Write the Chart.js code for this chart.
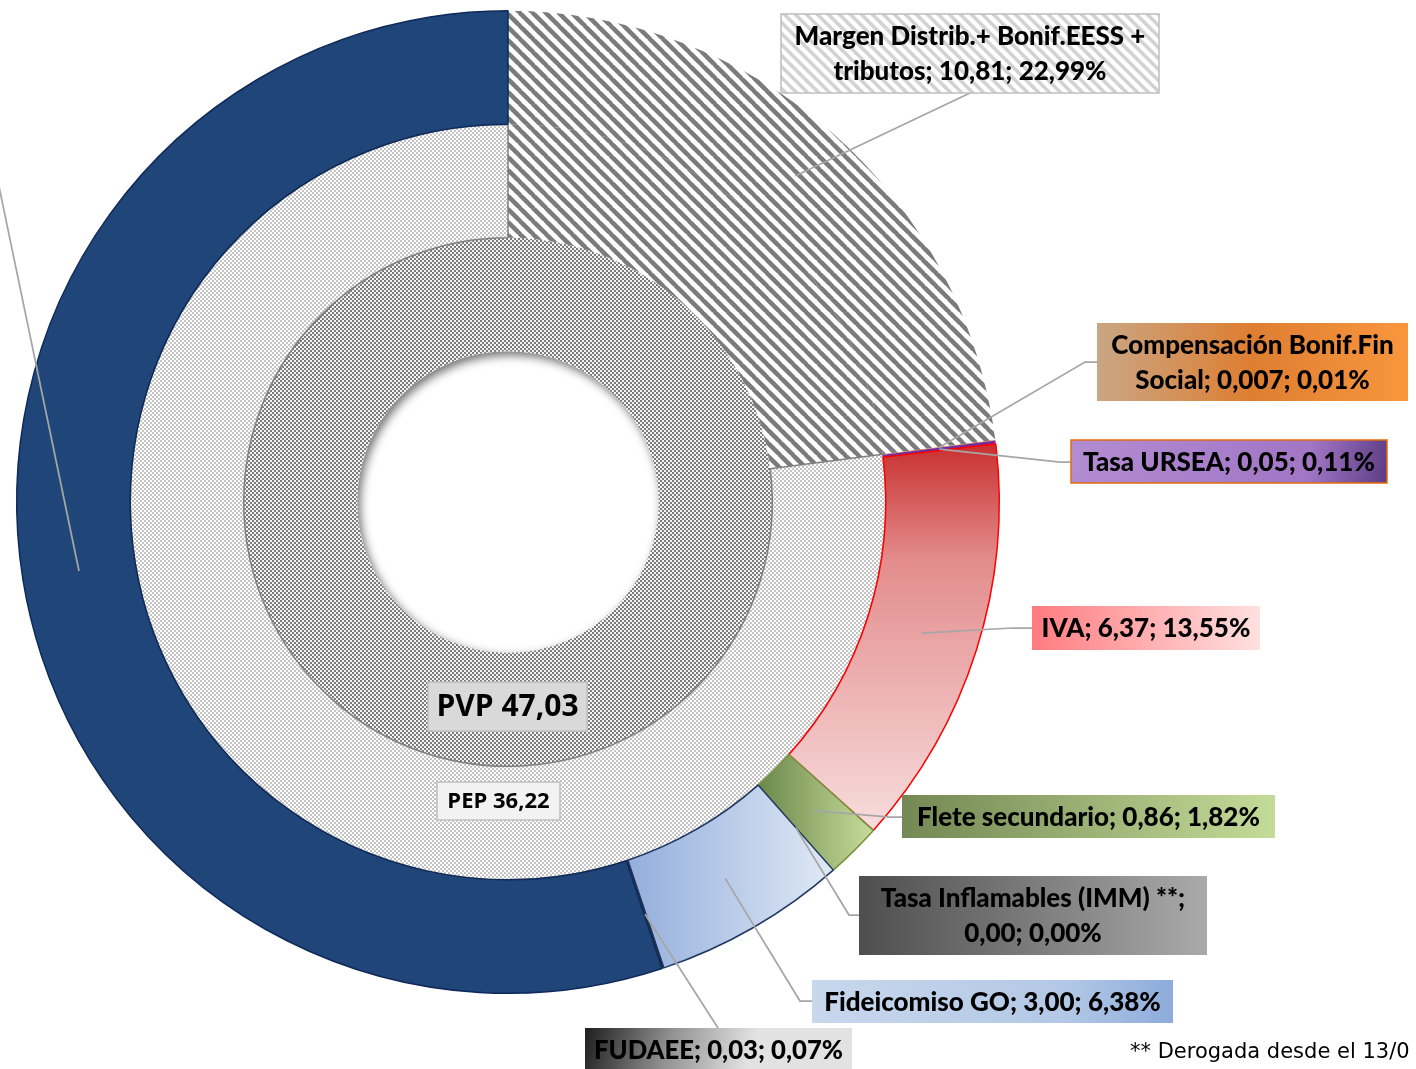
<!DOCTYPE html>
<html>
<head>
<meta charset="utf-8">
<script src="https://cdn.jsdelivr.net/npm/chart.js@4.4.0/dist/chart.umd.min.js"></script>
<style>
  html, body { margin: 0; padding: 0; background: #fff; overflow: hidden; }
  #wrap { position: relative; width: 1416px; height: 1069px; }
</style>
</head>
<body>
<div id="wrap"><canvas id="chart" width="1416" height="1069"></canvas></div>
<script>
// Outer ring: breakdown of the price
const outerLabels = ['Margen Distrib.+ Bonif.EESS + tributos', 'Compensación Bonif.Fin Social', 'Tasa URSEA', 'IVA',
  'Flete secundario', 'Tasa Inflamables (IMM) **', 'Fideicomiso GO', 'FUDAEE', 'Precio paridad'];
const outerValues = [10.81, 0.007, 0.05, 6.37, 0.86, 0.00, 3.00, 0.03, 25.90];
const outerValueText = ['10,81', '0,007', '0,05', '6,37', '0,86', '0,00', '3,00', '0,03', '25,90'];
const outerPctText = ['22,99%', '0,01%', '0,11%', '13,55%', '1,82%', '0,00%', '6,38%', '0,07%', '55,07%'];

// Middle ring: margen vs PEP
const middleLabels = ['Margen', 'PEP'];
const middleValues = [10.81, 36.22];

// Inner ring: PVP
const innerLabels = ['PVP'];
const innerValues = [47.03];

const footnote = '** Derogada desde el 13/0';

const fmt = v => v.toFixed(2).replace('.', ',');

// label boxes (layout only), same order as outerLabels
const boxes = [
  { x: 781, y: 14, w: 378, h: 79, split: 4, leader: [[970, 93]] },
  { x: 1097, y: 323, w: 311, h: 78, split: 2, leader: [[1085, 362], [1097, 362]] },
  { x: 1071, y: 440, w: 316, h: 43, split: 0, leader: [[1060, 462], [1071, 462]] },
  { x: 1032, y: 606, w: 228, h: 44, split: 0, leader: [[1012, 628], [1032, 628]] },
  { x: 902, y: 795, w: 373, h: 43, split: 0, leader: [[890, 817], [902, 817]] },
  { x: 859, y: 876, w: 348, h: 79, split: 4, leader: [[849, 915], [859, 915]] },
  { x: 812, y: 980, w: 361, h: 43, split: 0, leader: [[800, 1001], [812, 1001]] },
  { x: 585, y: 1028, w: 267, h: 44, split: 0, leader: [[718, 1028]] },
  { x: -400, y: 150, w: 300, h: 60, split: 0, leader: [[-4, 172]] }
];

function stripes(fg, bg, size, width) {
  const t = document.createElement('canvas');
  t.width = t.height = size;
  const g = t.getContext('2d');
  g.fillStyle = bg;
  g.fillRect(0, 0, size, size);
  g.strokeStyle = fg;
  g.lineWidth = width;
  g.beginPath();
  for (const o of [-size, 0, size]) {
    g.moveTo(o - 1, -1);
    g.lineTo(o + size + 1, size + 1);
  }
  g.stroke();
  return g.createPattern(t, 'repeat');
}

function checker(fg, bg) {
  const t = document.createElement('canvas');
  t.width = t.height = 4;
  const g = t.getContext('2d');
  g.fillStyle = bg;
  g.fillRect(0, 0, 4, 4);
  g.fillStyle = fg;
  g.fillRect(0, 0, 2, 2);
  g.fillRect(2, 2, 2, 2);
  return g.createPattern(t, 'repeat');
}

const hatchDark = stripes('#7b7b7b', '#ffffff', 13, 4.5);
const hatchLight = stripes('#d2d2d2', '#ffffff', 11, 3.5);
const dotsDark = checker('#7c7c7c', '#f4f4f4');
const dotsLight = checker('#c4c4c4', '#ffffff');

function geo(chart) {
  const a = chart.chartArea;
  if (!a) return null;
  return { cx: (a.left + a.right) / 2, cy: (a.top + a.bottom) / 2, R: Math.min(a.width, a.height) / 2 };
}

function lin(ctx, x0, y0, x1, y1, stops) {
  const g = ctx.createLinearGradient(x0, y0, x1, y1);
  stops.forEach(s => g.addColorStop(s[0], s[1]));
  return g;
}

const outerFill = [
  () => hatchDark,
  () => '#E46C0A',
  () => '#7030A0',
  c => { const g = geo(c.chart); if (!g) return '#E38C8C'; return lin(c.chart.ctx, 0, g.cy - 0.12 * g.R, 0, g.cy + 0.67 * g.R, [[0, '#C92F2F'], [0.3, '#E38C8C'], [1, '#F8DDDD']]); },
  c => { const g = geo(c.chart); if (!g) return '#9CB373'; return lin(c.chart.ctx, g.cx + 0.51 * g.R, 0, g.cx + 0.74 * g.R, 0, [[0, '#6C884C'], [1, '#C6DB9A']]); },
  () => '#808080',
  c => { const g = geo(c.chart); if (!g) return '#B8CAE8'; return lin(c.chart.ctx, g.cx + 0.24 * g.R, 0, g.cx + 0.65 * g.R, 0, [[0, '#93AEDC'], [1, '#DEE7F4']]); },
  () => '#2B2B2B',
  () => '#1F4579'
];
const outerBorder = ['#ffffff', '#E46C0A', '#C00000', '#FF0000', '#77933C', '#808080', '#1F3864', '#1F3864', '#0F2A5A'];
const outerBorderWidth = [0, 0, 0, 1.5, 1.5, 0, 1.5, 1, 1.5];

const boxFill = [
  () => hatchLight,
  (ctx, b) => lin(ctx, b.x, 0, b.x + b.w, 0, [[0, '#C9A684'], [0.5, '#DE7E31'], [1, '#F9963D']]),
  (ctx, b) => lin(ctx, b.x, b.y, b.x + b.w, b.y + b.h, [[0, '#B28CD2'], [0.75, '#A176C5'], [1, '#5E3D85']]),
  (ctx, b) => lin(ctx, b.x, 0, b.x + b.w, 0, [[0, '#FF7C80'], [1, '#FFE0E0']]),
  (ctx, b) => lin(ctx, b.x, 0, b.x + b.w, 0, [[0, '#738853'], [1, '#C5DB98']]),
  (ctx, b) => lin(ctx, b.x, 0, b.x + b.w, 0, [[0, '#4E4E4E'], [1, '#AAAAAA']]),
  (ctx, b) => lin(ctx, b.x, 0, b.x + b.w, 0, [[0, '#C8D7EC'], [0.7, '#B3C8E6'], [1, '#8DACDB']]),
  (ctx, b) => lin(ctx, b.x, b.y, b.x + b.w * 0.6, b.y + b.h, [[0, '#1E1E1E'], [0.5, '#8F8F8F'], [1, '#E2E2E2']]),
  () => '#ffffff'
];
const boxBorder = ['#BFBFBF', null, '#E46C0A', null, null, null, null, null, null];

const labelPlugin = {
  id: 'sliceLabels',
  afterDatasetsDraw(chart) {
    const ctx = chart.ctx;
    const meta = chart.getDatasetMeta(0);
    const innerMeta = chart.getDatasetMeta(2);
    const { x: cx, y: cy, innerRadius: r } = innerMeta.data[0];

    // inner shadow of the hole
    ctx.save();
    ctx.beginPath();
    ctx.arc(cx, cy, r, 0, Math.PI * 2);
    ctx.clip();
    ctx.beginPath();
    ctx.rect(cx - r - 60, cy - r - 60, 2 * r + 120, 2 * r + 120);
    ctx.arc(cx, cy, r, 0, Math.PI * 2, true);
    ctx.shadowColor = 'rgba(0,0,0,0.55)';
    ctx.shadowBlur = 10;
    ctx.shadowOffsetX = 3;
    ctx.shadowOffsetY = 4;
    ctx.fillStyle = '#fff';
    ctx.fill();
    ctx.restore();

    // leader lines
    ctx.save();
    ctx.strokeStyle = '#A6A6A6';
    ctx.lineWidth = 1.75;
    outerLabels.forEach((name, i) => {
      const p = meta.data[i].tooltipPosition();
      ctx.beginPath();
      ctx.moveTo(p.x, p.y);
      boxes[i].leader.forEach(pt => ctx.lineTo(pt[0], pt[1]));
      ctx.stroke();
    });
    ctx.restore();

    // label boxes
    outerLabels.forEach((name, i) => {
      const b = boxes[i];
      if (b.x + b.w < 0) return;
      ctx.save();
      ctx.fillStyle = boxFill[i](ctx, b);
      ctx.fillRect(b.x, b.y, b.w, b.h);
      if (boxBorder[i]) {
        ctx.strokeStyle = boxBorder[i];
        ctx.lineWidth = 1.5;
        ctx.strokeRect(b.x, b.y, b.w, b.h);
      }
      const full = `${name}; ${outerValueText[i]}; ${outerPctText[i]}`;
      let lines = [full];
      if (b.split) {
        const words = full.split(' ');
        lines = [words.slice(0, b.split).join(' '), words.slice(b.split).join(' ')];
      }
      ctx.fillStyle = '#000';
      ctx.textAlign = 'center';
      ctx.textBaseline = 'middle';
      ctx.font = '900 26px Lato';
      const tx = b.x + b.w / 2, ty = b.y + b.h / 2 + 1;
      lines.forEach((t, k) => ctx.fillText(t, tx, ty + (k - (lines.length - 1) / 2) * 35, b.w - 18));
      ctx.restore();
    });

    // centre boxes: PVP and PEP
    const centreBox = (text, x, y, w, h, fill, size) => {
      ctx.save();
      ctx.fillStyle = fill;
      ctx.fillRect(x, y, w, h);
      ctx.strokeStyle = '#BFBFBF';
      ctx.lineWidth = 1.5;
      ctx.strokeRect(x, y, w, h);
      ctx.fillStyle = '#000';
      ctx.textAlign = 'center';
      ctx.textBaseline = 'middle';
      ctx.font = `700 ${size}px "Open Sans"`;
      ctx.fillText(text, x + w / 2, y + h / 2 + 1, w - 16);
      ctx.restore();
    };
    centreBox(`${innerLabels[0]} ${fmt(innerValues[0])}`, 428, 682, 159, 49, '#D9D9D9', 30);
    centreBox(`${middleLabels[1]} ${fmt(middleValues[1])}`, 437, 782, 123, 38, '#F2F2F2', 22);

    // footnote
    ctx.save();
    ctx.fillStyle = '#000';
    ctx.font = '21px "DejaVu Sans"';
    ctx.textBaseline = 'middle';
    ctx.fillText(footnote, 1130, 1053);
    ctx.restore();
  }
};

function build() {
  const ctx = document.getElementById('chart').getContext('2d');
  new Chart(ctx, {
    type: 'doughnut',
    data: {
      labels: outerLabels,
      datasets: [
        {
          data: outerValues,
          backgroundColor: c => outerFill[c.dataIndex](c),
          borderColor: outerBorder,
          borderWidth: outerBorderWidth
        },
        {
          data: middleValues,
          backgroundColor: [hatchDark, dotsLight],
          borderColor: ['#ffffff', '#808080'],
          borderWidth: [0, 1.5]
        },
        {
          data: innerValues,
          backgroundColor: [dotsDark],
          borderColor: ['#9A9A9A'],
          borderWidth: [0]
        }
      ]
    },
    options: {
      responsive: false,
      animation: false,
      events: [],
      cutout: '30.7%',
      layout: { padding: { left: 16, right: 416, top: 10, bottom: 75 } },
      plugins: {
        legend: { display: false },
        tooltip: { enabled: false }
      }
    },
    plugins: [labelPlugin]
  });
}

Promise.all([
  document.fonts.load('900 26px Lato'),
  document.fonts.load('700 30px "Open Sans"'),
  document.fonts.load('21px "DejaVu Sans"')
]).then(build, build);
</script>
</body>
</html>
